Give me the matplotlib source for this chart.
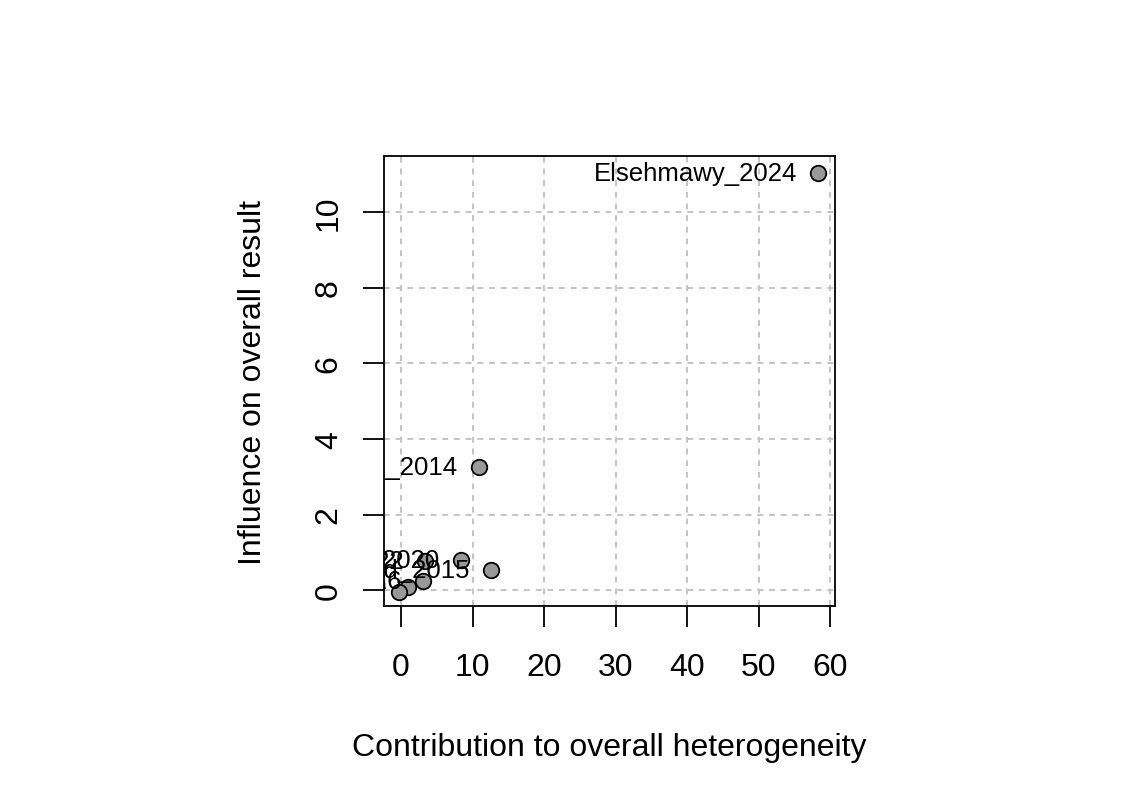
import matplotlib.pyplot as plt

# Baujat plot values
studies = ["Elsehmawy_2024", "Hassan_2014", "Ali_2020", "Mohamed_2015",
           "Kamal_2022", "Saleh_2016", "Ibrahim_2019", "Nasser_2018"]
heterogeneity = [58.3, 10.9, 8.4, 12.6, 3.4, 3.1, 1.0, -0.3]
influence = [11.03, 3.26, 0.80, 0.52, 0.77, 0.24, 0.08, -0.05]

x_ticks = [0, 10, 20, 30, 40, 50, 60]
y_ticks = [0, 2, 4, 6, 8, 10]

plt.rcParams["font.family"] = ["Liberation Sans", "DejaVu Sans"]

fig = plt.figure(figsize=(11.42, 8.04), dpi=100)
ax = fig.add_axes([0.3363, 0.245, 0.3949, 0.5597])

ax.set_xlim(-2.38, 60.7)
ax.set_ylim(-0.42, 11.48)
ax.set_xticks(x_ticks)
ax.set_yticks(y_ticks)
ax.grid(True, color="#c4c4c4", linestyle=(0, (3, 3)), linewidth=1.4)
ax.set_axisbelow(True)

ax.scatter(heterogeneity, influence, s=125, facecolor="#999999",
           edgecolor="black", linewidth=1.3, zorder=3)
for name, xv, yv in zip(studies, heterogeneity, influence):
    ax.annotate(name, (xv, yv), xytext=(-15, 0), textcoords="offset points",
                ha="right", va="center", fontsize=18.5, clip_on=True,
                annotation_clip=False)

for s in ax.spines.values():
    s.set_linewidth(1.3)
ax.tick_params(axis="both", direction="out", length=15, width=1.3,
               labelsize=23, pad=14)
ax.tick_params(axis="x", pad=18)
for lab in ax.get_yticklabels():
    lab.set_rotation(90)
    lab.set_va("center")

ax.set_xlabel("Contribution to overall heterogeneity", fontsize=23, labelpad=36)
ax.set_ylabel("Influence on overall result", fontsize=23, labelpad=33)

fig.savefig("out.png", dpi=100)
